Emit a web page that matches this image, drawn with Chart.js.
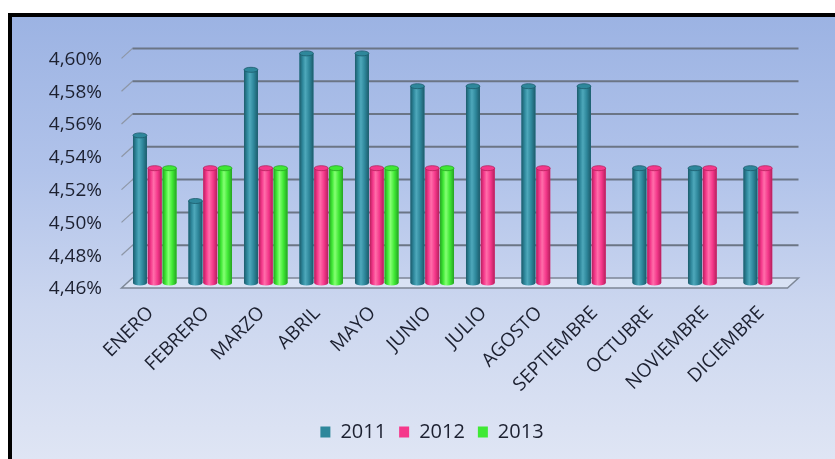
<!DOCTYPE html>
<html lang="es">
<head>
<meta charset="utf-8">
<title>Tasa mensual 2011-2013</title>
<script src="https://cdn.jsdelivr.net/npm/chart.js@4/dist/chart.umd.min.js"></script>
<style>
  html, body { margin: 0; padding: 0; background: #ffffff; }
  #frame {
    position: absolute; left: 8px; top: 13px;
    width: 823px; height: 442px;
    border-left: 4px solid #000; border-top: 4px solid #000;
    background: linear-gradient(to bottom, #9cb3e3 0%, #b1c3ea 35%, #cbd6ef 65%, #dfe5f4 100%);
  }
  #chart { display: block; }
</style>
</head>
<body>
<div id="frame"><canvas id="chart" width="823" height="442"></canvas></div>
<script>
// Meses y valores (%) por año
const categories = ['ENERO', 'FEBRERO', 'MARZO', 'ABRIL', 'MAYO', 'JUNIO',
                    'JULIO', 'AGOSTO', 'SEPTIEMBRE', 'OCTUBRE', 'NOVIEMBRE', 'DICIEMBRE'];
const serie2011 = [4.55, 4.51, 4.59, 4.60, 4.60, 4.58, 4.58, 4.58, 4.58, 4.53, 4.53, 4.53];
const serie2012 = [4.53, 4.53, 4.53, 4.53, 4.53, 4.53, 4.53, 4.53, 4.53, 4.53, 4.53, 4.53];
const serie2013 = [4.53, 4.53, 4.53, 4.53, 4.53, 4.53, null, null, null, null, null, null];
const seriesNames = ['2011', '2012', '2013'];
const yTickValues = [4.46, 4.48, 4.50, 4.52, 4.54, 4.56, 4.58, 4.60];

// Tonos de cada cilindro: oscuro, base, claro
const palette = [
  { dark: '#1c5b6b', base: '#2e879b', light: '#4ea8bb' },
  { dark: '#b51f5c', base: '#f5388b', light: '#ff6eaa' },
  { dark: '#26a322', base: '#3fe935', light: '#86ff74' }
];

// Desplazamiento de profundidad del efecto 3D (pared trasera / frente)
const DEPTH_X = 5.5;
const DEPTH_Y = 5;

const fontFamily = '"Open Sans", "Liberation Sans", sans-serif';
const textColor = '#1c2030';

function fmtPct(v) {
  return v.toFixed(2).replace('.', ',') + '%';
}

// Rejilla en perspectiva y suelo del gráfico
const wallPlugin = {
  id: 'wall3d',
  beforeDatasetsDraw(chart) {
    const { ctx, chartArea: { left, right }, scales: { y } } = chart;
    ctx.save();
    const pf = y.getPixelForValue(yTickValues[0]);
    ctx.beginPath();
    ctx.moveTo(left - DEPTH_X, pf + DEPTH_Y);
    ctx.lineTo(left + DEPTH_X, pf - DEPTH_Y);
    ctx.lineTo(right + DEPTH_X, pf - DEPTH_Y);
    ctx.lineTo(right - DEPTH_X, pf + DEPTH_Y);
    ctx.closePath();
    ctx.fillStyle = 'rgba(232,238,250,0.55)';
    ctx.fill();
    ctx.lineWidth = 1.5;
    ctx.strokeStyle = '#7d8796';
    ctx.stroke();

    for (let i = 1; i < yTickValues.length; i++) {
      const p = y.getPixelForValue(yTickValues[i]);
      ctx.beginPath();
      ctx.lineWidth = 1.2;
      ctx.strokeStyle = '#8d96a6';
      ctx.moveTo(left - DEPTH_X, p + DEPTH_Y);
      ctx.lineTo(left + DEPTH_X, p - DEPTH_Y);
      ctx.stroke();
      ctx.beginPath();
      ctx.lineWidth = 2;
      ctx.strokeStyle = '#6b7585';
      ctx.moveTo(left + DEPTH_X, p - DEPTH_Y);
      ctx.lineTo(right + DEPTH_X, p - DEPTH_Y);
      ctx.stroke();
    }
    ctx.restore();
  }
};

// Sombreado cilíndrico sobre cada barra
const cylinderPlugin = {
  id: 'cylinders',
  afterDatasetsDraw(chart) {
    const ctx = chart.ctx;
    const floor = chart.chartArea.bottom;
    chart.data.datasets.forEach((ds, di) => {
      const meta = chart.getDatasetMeta(di);
      if (meta.hidden) return;
      const c = palette[di];
      meta.data.forEach((bar, i) => {
        if (ds.data[i] === null || ds.data[i] === undefined) return;
        const props = bar.getProps(['x', 'y', 'base', 'width'], true);
        const x = props.x, y = props.y, width = props.width;
        const base = Math.min(props.base, floor);
        const l = x - width / 2;
        const ry = 2.5;
        ctx.save();
        const g = ctx.createLinearGradient(l, 0, l + width, 0);
        g.addColorStop(0, c.dark);
        g.addColorStop(0.22, c.base);
        g.addColorStop(0.42, c.light);
        g.addColorStop(0.7, c.base);
        g.addColorStop(1, c.dark);
        ctx.fillStyle = g;
        ctx.beginPath();
        ctx.moveTo(l, y);
        ctx.lineTo(l, base);
        ctx.ellipse(x, base, width / 2, ry, 0, Math.PI, 0, true);
        ctx.lineTo(l + width, y);
        ctx.closePath();
        ctx.fill();
        ctx.beginPath();
        ctx.ellipse(x, y, width / 2, ry, 0, 0, Math.PI * 2);
        ctx.fillStyle = c.base;
        ctx.fill();
        ctx.lineWidth = 0.8;
        ctx.strokeStyle = c.dark;
        ctx.stroke();
        ctx.restore();
      });
    });
  }
};

const seriesData = [serie2011, serie2012, serie2013];

new Chart(document.getElementById('chart'), {
  type: 'bar',
  data: {
    labels: categories,
    datasets: seriesData.map((vals, i) => ({
      label: seriesNames[i],
      data: vals,
      backgroundColor: palette[i].base,
      borderWidth: 0,
      categoryPercentage: 0.8,
      barPercentage: 0.94
    }))
  },
  options: {
    responsive: false,
    devicePixelRatio: 1,
    animation: false,
    layout: { padding: { left: 17, right: 0, top: 33, bottom: 7 } },
    plugins: {
      tooltip: { enabled: false },
      legend: {
        position: 'bottom',
        labels: {
          boxWidth: 10,
          boxHeight: 11,
          padding: 13,
          color: textColor,
          font: { family: fontFamily, size: 20 }
        }
      }
    },
    scales: {
      x: {
        grid: { display: false, drawTicks: false },
        border: { display: false },
        ticks: {
          minRotation: 45,
          maxRotation: 45,
          autoSkip: false,
          padding: 19,
          labelOffset: -4,
          color: textColor,
          font: { family: fontFamily, size: 19 }
        },
        afterFit(scale) { scale.height = 126; }
      },
      y: {
        min: 4.46,
        max: 4.60,
        grid: { display: false, drawTicks: false },
        border: { display: false },
        afterBuildTicks(scale) {
          scale.ticks = yTickValues.map(v => ({ value: v }));
        },
        ticks: {
          padding: 25,
          labelOffset: 6,
          color: textColor,
          font: { family: fontFamily, size: 19 },
          callback: (v) => fmtPct(v)
        },
        afterFit(scale) { scale.width = 98; }
      },
      // eje derecho vacío: reserva el margen a la derecha del área de barras
      yRight: {
        type: 'linear',
        position: 'right',
        min: 0,
        max: 1,
        grid: { display: false, drawTicks: false },
        border: { display: false },
        ticks: { display: false },
        afterFit(scale) { scale.width = 42; }
      }
    }
  },
  plugins: [wallPlugin, cylinderPlugin]
});
</script>
</body>
</html>
